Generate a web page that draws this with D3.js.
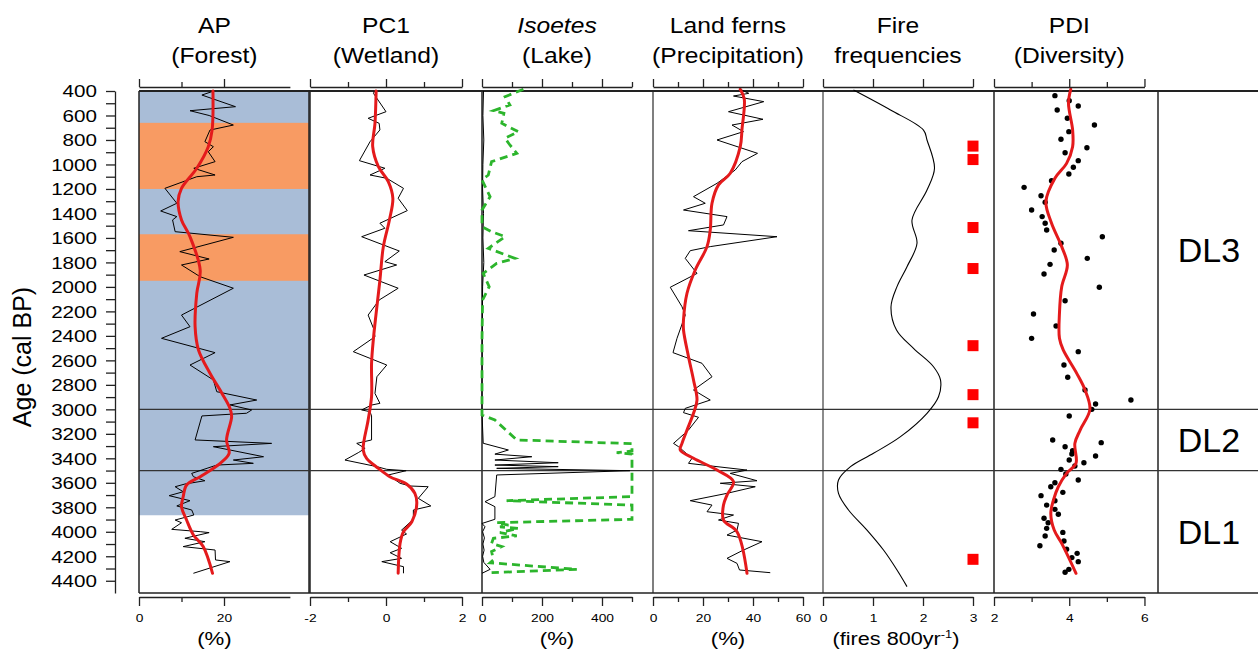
<!DOCTYPE html>
<html><head><meta charset="utf-8">
<script src="https://cdn.jsdelivr.net/npm/d3@7"></script>
<style>
body{margin:0;background:#fff}
svg{display:block}
text{font-family:"Liberation Sans",Arial,sans-serif;fill:#000}
</style>
</head><body>
<svg id="c" width="1258" height="652"></svg>
<script>
// ---------------- DATA ----------------
const ageLabels = [400,600,800,1000,1200,1400,1600,1800,2000,2200,2400,2600,2800,3000,3200,3400,3600,3800,4000,4200,4400];
const zoneBounds = [3000, 3500];
const zoneNames = ["DL3","DL2","DL1"];

const apBlueBand = [400, 3865];
const apOrangeBands = [[660,1200],[1570,1950]];

const apRaw = [[400,17.6],[433,14.8],[528,22.7],[561,12],[600,16.5],[678,22.2],[719,16.7],[814,15.5],[855,17.5],[896,16.3],[977,17.9],[1031,12.9],[1086,17.9],[1100,13.6],[1195,6.1],[1317,8.9],[1380,5.1],[1426,8.9],[1453,7.9],[1549,8.5],[1595,22.2],[1712,9.6],[1772,16.5],[1821,10],[1917,14.4],[2011,22.2],[2230,10],[2325,12],[2420,5.3],[2537,17.9],[2638,12],[2760,17.5],[2856,18.3],[2924,27.7],[2964,21.4],[3005,26.5],[3032,25.3],[3054,14.8],[3250,13.2],[3278,31.2],[3305,17.5],[3332,21.4],[3387,29.3],[3414,22.2],[3441,26.9],[3455,18.3],[3523,12.4],[3550,12.8],[3583,15.5],[3610,10.8],[3632,8.5],[3673,10.4],[3705,7.1],[3746,12],[3789,8.9],[3822,12.4],[3863,12.9],[3904,8.5],[3926,10],[3980,7.7],[3999,14.4],[4007,16.5],[4053,10.8],[4081,15.5],[4121,10.4],[4149,17.9],[4230,18],[4244,21.4],[4339,12.8]];
const apSmooth = [[400,17.4],[720,17.2],[855,16.3],[1031,13.6],[1195,10],[1303,9.2],[1453,10],[1590,12],[1863,14.4],[2051,13.6],[2325,13.2],[2515,14],[2705,16.7],[2868,19.5],[2991,21.4],[3059,21.8],[3250,20.6],[3360,21.2],[3441,19.1],[3550,14.4],[3618,11.2],[3714,10.4],[3795,10],[3904,11.2],[4026,12.8],[4121,15.1],[4339,17.3]];

const pc1Raw = [[400,-0.3],[419,-0.33],[569,0],[623,-0.47],[664,-0.18],[718,-0.16],[814,-0.42],[969,-0.7],[1031,-0.03],[1086,-0.42],[1113,0.02],[1195,0.46],[1276,0.32],[1377,0.56],[1480,-0.16],[1521,-0.03],[1590,-0.64],[1707,0.35],[1794,-0.03],[1821,0.28],[1903,-0.58],[2011,0.32],[2107,-0.18],[2230,-0.47],[2338,-0.33],[2407,-0.29],[2529,-0.86],[2638,0.02],[2734,-0.24],[2870,-0.29],[2951,-0.16],[2965,-0.38],[3005,-0.64],[3019,-0.42],[3054,-0.38],[3250,-0.38],[3278,-0.77],[3319,-0.55],[3354,-0.73],[3414,-1.08],[3468,-0.24],[3490,0.02],[3501,0.53],[3536,0.06],[3604,0.37],[3626,0.63],[3632,1.11],[3727,0.85],[3789,1.18],[3822,0.72],[3898,0.72],[3986,0.41],[4018,0.54],[4081,0.11],[4135,0.41],[4171,0.11],[4217,0.41],[4244,-0.11],[4285,0.46],[4339,0.46]];
const pc1Smooth = [[400,-0.26],[664,-0.29],[855,-0.35],[1018,-0.2],[1140,0.06],[1276,0.18],[1453,0.09],[1671,-0.07],[1944,-0.16],[2216,-0.26],[2420,-0.33],[2624,-0.38],[2897,-0.38],[3087,-0.47],[3332,-0.6],[3400,-0.51],[3482,-0.2],[3550,0.1],[3610,0.54],[3686,0.76],[3768,0.81],[3918,0.68],[4000,0.46],[4095,0.37],[4339,0.32]];

const isoRaw = [[400,5],[600,3],[800,6],[1000,3],[1200,2],[1400,5],[1600,3],[1800,6],[2000,2],[2400,1],[2800,0],[3030,0],[3277,4],[3332,88],[3366,43],[3387,166],[3414,43],[3436,254],[3455,43],[3468,254],[3482,49],[3501,493],[3536,49],[3713,43],[3754,10],[3795,43],[3898,43],[3932,0],[3959,10],[4000,2],[4050,8],[4100,3],[4150,7],[4200,2],[4250,6],[4307,27],[4339,0]];
const isoLake = [[386,138],[446,77],[514,93],[561,38],[582,73],[664,66],[732,121],[786,77],[841,93],[909,116],[977,32],[1086,21],[1127,0],[1263,27],[1372,0],[1508,0],[1549,32],[1590,77],[1685,21],[1767,110],[1808,49],[1890,4],[1998,24],[2107,2],[2420,0],[3005,0],[3046,0],[3087,43],[3250,116],[3280,500],[3340,500],[3354,449],[3366,500],[3713,500],[3746,82],[3782,500],[3898,500],[3926,49],[3945,88],[3960,60],[3972,121],[4007,60],[4034,116],[4053,38],[4094,32],[4121,66],[4162,32],[4230,38],[4253,27],[4307,316],[4334,32]];

const fernRaw = [[386,34.9],[419,38.3],[441,32.2],[487,44.3],[569,30.2],[631,44],[678,31.6],[732,36.2],[800,25.6],[909,41.8],[977,35.6],[1045,32.9],[1154,25.6],[1263,16.2],[1317,20.9],[1372,12.2],[1426,29.6],[1494,28.2],[1541,14.2],[1590,49.6],[1671,22.9],[1704,14.9],[1767,12.9],[1890,17.6],[2003,6.9],[2162,11.6],[2230,12.9],[2420,9.6],[2537,8],[2624,19.6],[2734,23.6],[2842,16.2],[2924,22.9],[2992,12.9],[3027,12.2],[3065,18.2],[3169,14.2],[3278,8.2],[3305,10.2],[3400,15.6],[3441,14.2],[3468,25.6],[3496,37.6],[3523,30.9],[3583,41.6],[3604,26.9],[3632,40.9],[3686,29.6],[3746,14.9],[3782,23.6],[3836,21.6],[3863,32.2],[3904,26.2],[3931,34.2],[3986,33.6],[4027,29.6],[4081,43.6],[4155,35.6],[4217,29.6],[4258,33.6],[4312,34.6],[4334,46.9]];
const fernSmooth = [[386,34.9],[466,36.5],[712,35.6],[855,34.9],[1072,30.9],[1167,26.2],[1317,23.6],[1535,22.9],[1671,21.6],[1862,16.9],[2052,13.6],[2270,12.2],[2352,12.2],[2570,14.2],[2760,16.2],[2924,17.6],[3032,16.2],[3169,13.6],[3278,11.6],[3332,10.9],[3400,16.2],[3496,25.6],[3591,32.2],[3700,29.6],[3782,28.2],[3904,28.2],[4000,33.6],[4339,37.6]];

const fireFreq = [[392,0.61],[555,1.35],[719,2.01],[800,2.08],[1031,2.23],[1209,2.08],[1454,1.78],[1644,1.88],[1835,1.68],[1998,1.48],[2162,1.36],[2352,1.47],[2502,1.81],[2652,2.21],[2760,2.35],[2897,2.31],[3032,2.08],[3223,1.55],[3359,1.01],[3468,0.55],[3577,0.31],[3686,0.31],[3822,0.51],[3986,0.88],[4149,1.21],[4312,1.48],[4448,1.68]];
const fireEventAges = [850,960,1515,1850,2480,2880,3110,4225];
const fireEventValue = 3;

const pdiDots = [[438,3.62],[479,4.0],[522,4.24],[555,3.68],[623,3.95],[678,4.67],[732,3.99],[794,3.78],[863,4.47],[904,3.89],[969,4.24],[1023,4.11],[1078,3.99],[1133,3.53],[1187,2.8],[1255,3.25],[1309,3.36],[1372,3.0],[1426,3.28],[1480,3.36],[1535,3.4],[1590,4.88],[1644,3.78],[1699,3.6],[1767,4.48],[1816,3.49],[1895,3.33],[2003,4.8],[2113,3.89],[2221,3.05],[2319,3.65],[2420,3.0],[2529,4.24],[2638,3.86],[2738,3.96],[2842,4.42],[2924,5.64],[2956,4.7],[3000,4.6],[3054,4.0],[3250,3.56],[3272,4.85],[3305,3.89],[3338,4.09],[3365,4.07],[3381,4.7],[3414,4.0],[3436,4.39],[3463,4.15],[3490,3.78],[3528,3.91],[3577,4.24],[3599,3.62],[3632,3.51],[3678,3.83],[3705,3.25],[3746,3.62],[3782,3.4],[3817,3.62],[3857,3.71],[3890,3.33],[3926,3.44],[3972,3.4],[4005,3.83],[4034,3.36],[4075,3.86],[4114,3.22],[4143,3.93],[4176,4.21],[4211,4.07],[4244,4.24],[4307,3.99],[4331,3.89]];
const pdiSmooth = [[386,4.04],[500,3.98],[718,4.09],[855,4.09],[991,3.93],[1113,3.62],[1304,3.38],[1480,3.53],[1671,3.8],[1821,3.95],[1998,3.8],[2216,3.74],[2420,3.74],[2515,3.84],[2706,4.2],[2842,4.42],[3000,4.55],[3169,4.29],[3278,4.15],[3441,4.18],[3523,3.93],[3632,3.71],[3741,3.58],[3850,3.51],[3986,3.6],[4095,3.8],[4339,4.18]];

// ---------------- LAYOUT ----------------
const TOP = 91, BOT = 593, RIGHT = 1258;
const RED = "#e41a1c", GREEN = "#2cb52c", BLUE = "#a9bdd7", ORANGE = "#f89b63";

const svg = d3.select("#c");
const y = d3.scaleLinear().domain([400, 4500]).range([TOP, BOT]);

const panels = [
  {t1:"AP", t2:"(Forest)", x0:139, x1:309, d:[0,40], ax:[0,35.5], major:[0,20], minor:[10], unit:"(%)", sep:"#222"},
  {t1:"PC1", t2:"(Wetland)", x0:310, x1:481, d:[-2,2.5], ax:[-2,2], major:[-2,0,2], minor:[-1,1], unit:null, sep:"#222"},
  {t1:"Isoetes", t2:"(Lake)", italic:true, x0:482, x1:652, d:[0,566.7], ax:[0,500], major:[0,200,400], minor:[100,300,500], unit:"(%)", sep:"#222"},
  {t1:"Land ferns", t2:"(Precipitation)", x0:653, x1:823, d:[0,68], ax:[0,60], major:[0,20,40,60], minor:[10,30,50], unit:"(%)", sep:"#555"},
  {t1:"Fire", t2:"frequencies", x0:823, x1:994, d:[0,3.42], ax:[0,3], major:[0,1,2,3], minor:[], unit:"fire", sep:"#666"},
  {t1:"PDI", t2:"(Diversity)", x0:994, x1:1158, d:[2,6.36], ax:[2,6], major:[2,4,6], minor:[3,5], unit:null, sep:"#222"}
];
panels.forEach(p => { p.x = d3.scaleLinear().domain(p.d).range([p.x0, p.x1]); });

// AP background bands
const ap = panels[0];
svg.append("rect").attr("x", ap.x0).attr("width", ap.x1 - ap.x0)
  .attr("y", y(apBlueBand[0])).attr("height", y(apBlueBand[1]) - y(apBlueBand[0])).attr("fill", BLUE);
svg.selectAll("rect.orange").data(apOrangeBands).enter().append("rect").attr("class","orange")
  .attr("x", ap.x0).attr("width", ap.x1 - ap.x0)
  .attr("y", d => y(d[0])).attr("height", d => y(d[1]) - y(d[0])).attr("fill", ORANGE);

// panel separators
panels.forEach(p => {
  svg.append("line").attr("x1", p.x0).attr("x2", p.x0).attr("y1", TOP).attr("y2", BOT)
    .attr("stroke", p.sep).attr("stroke-width", 1.5);
});
[309, 1158].forEach(xv => svg.append("line").attr("x1", xv).attr("x2", xv).attr("y1", TOP).attr("y2", BOT).attr("stroke", "#222").attr("stroke-width", 1.5));

// horizontal borders / zones
svg.append("line").attr("x1", 139).attr("x2", RIGHT).attr("y1", TOP).attr("y2", TOP).attr("stroke", "#222").attr("stroke-width", 2.2);
svg.append("line").attr("x1", 139).attr("x2", RIGHT).attr("y1", BOT).attr("y2", BOT).attr("stroke", "#222").attr("stroke-width", 1.5);
zoneBounds.forEach(a => {
  svg.append("line").attr("x1", 139).attr("x2", RIGHT).attr("y1", y(a)).attr("y2", y(a)).attr("stroke", "#333").attr("stroke-width", 1.2);
});

// helpers
const lineOf = (p, curve) => d3.line().x(d => p.x(d[1])).y(d => y(d[0])).curve(curve || d3.curveLinear);
function raw(p, data){ svg.append("path").attr("d", lineOf(p)(data)).attr("fill","none").attr("stroke","#000").attr("stroke-width",1); }
function smooth(p, data){ svg.append("path").attr("d", lineOf(p, d3.curveCatmullRom.alpha(0.5))(data)).attr("fill","none").attr("stroke",RED).attr("stroke-width",3).attr("stroke-linecap","round"); }

raw(panels[0], apRaw); smooth(panels[0], apSmooth);
raw(panels[1], pc1Raw); smooth(panels[1], pc1Smooth);
raw(panels[2], isoRaw);
svg.append("path").attr("d", lineOf(panels[2])(isoLake)).attr("fill","none").attr("stroke",GREEN).attr("stroke-width",2.8).attr("stroke-dasharray","8,5");
raw(panels[3], fernRaw); smooth(panels[3], fernSmooth);
svg.append("path").attr("d", lineOf(panels[4], d3.curveCatmullRom.alpha(0.5))(fireFreq)).attr("fill","none").attr("stroke","#000").attr("stroke-width",1.1);
svg.selectAll("rect.fire").data(fireEventAges).enter().append("rect").attr("class","fire")
  .attr("x", panels[4].x(fireEventValue) - 5.5).attr("y", d => y(d) - 5.5).attr("width", 11).attr("height", 11).attr("fill", "#ff0000");
svg.selectAll("circle.pdi").data(pdiDots).enter().append("circle").attr("class","pdi")
  .attr("cx", d => panels[5].x(d[1])).attr("cy", d => y(d[0])).attr("r", 2.7).attr("fill", "#000");
smooth(panels[5], pdiSmooth);

// axes
const fmt = d => String(d);
panels.forEach(p => {
  const s = d3.scaleLinear().domain(p.ax).range([p.x(p.ax[0]), p.x(p.ax[1])]);
  // bottom
  const gb = svg.append("g").attr("transform", `translate(0,597)`);
  gb.call(d3.axisBottom(s).tickValues(p.major).tickSize(9).tickSizeOuter(0).tickFormat(fmt));
  gb.selectAll("text").attr("y", 25).attr("dy", 0).attr("font-size", 11.5)
    .attr("font-family", '"Liberation Sans",Arial,sans-serif').attr("transform", "scale(1.2,1)");
  if (p.minor.length) {
    const gm = gb.append("g").call(d3.axisBottom(s).tickValues(p.minor).tickSize(5).tickSizeOuter(0).tickFormat(() => ""));
    gm.select(".domain").remove();
  }
  gb.selectAll("path,line").attr("stroke", "#222").attr("stroke-width", 1.3);
  // top
  const gt = svg.append("g").attr("transform", `translate(0,87)`);
  gt.call(d3.axisTop(s).tickValues(p.major).tickSize(8).tickSizeOuter(0).tickFormat(() => ""));
  if (p.minor.length) gt.append("g").call(d3.axisTop(s).tickValues(p.minor).tickSize(5).tickSizeOuter(0).tickFormat(() => "")).select(".domain").remove();
  gt.selectAll("path,line").attr("stroke", "#222").attr("stroke-width", 1.3);
  // titles
  const cx = (s.range()[0] + s.range()[1]) / 2;
  const t1 = svg.append("text").attr("text-anchor","middle").attr("font-size",22)
    .attr("transform", `translate(${cx},33) scale(1.12,1)`).text(p.t1);
  if (p.italic) t1.attr("font-style","italic");
  svg.append("text").attr("text-anchor","middle").attr("font-size",22)
    .attr("transform", `translate(${cx},63) scale(1.12,1)`).text(p.t2);
  // units
  if (p.unit === "(%)") {
    svg.append("text").attr("text-anchor","middle").attr("font-size",18.5)
      .attr("transform", `translate(${cx},645) scale(1.2,1)`).text("(%)");
  } else if (p.unit === "fire") {
    const ut = svg.append("text").attr("text-anchor","middle").attr("font-size",18.5)
      .attr("transform", `translate(${cx - 2},645) scale(1.17,1)`);
    ut.append("tspan").text("(fires 800yr");
    ut.append("tspan").attr("font-size",11).attr("dy",-7).text("-1");
    ut.append("tspan").attr("dy",7).text(")");
  }
});

// left age axis
const ga = svg.append("g").attr("transform","translate(115,0)");
ga.call(d3.axisLeft(y).tickValues(d3.range(400, 4401, 100)).tickSize(9).tickSizeOuter(0)
  .tickFormat(d => ageLabels.includes(d) ? String(d) : ""));
ga.selectAll("path,line").attr("stroke","#222").attr("stroke-width",1.3);
ga.selectAll("text").attr("font-size",16.5).attr("font-family",'"Liberation Sans",Arial,sans-serif')
  .attr("x", -18/1.25).attr("transform","scale(1.25,1)").attr("dy","0.36em");
svg.append("text").attr("text-anchor","middle").attr("font-size",25)
  .attr("transform", `translate(31,357) rotate(-90)`).text("Age (cal BP)");

// zone labels
const zoneBaselines = [262, 452, 544];
zoneNames.forEach((n,i) => {
  svg.append("text").attr("text-anchor","middle").attr("font-size",34)
    .attr("x", 1209).attr("y", zoneBaselines[i]).text(n);
});
</script>
</body></html>
